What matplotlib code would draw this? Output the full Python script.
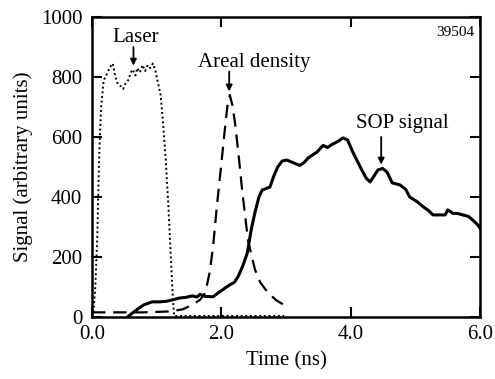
import matplotlib
matplotlib.use("Agg")
from matplotlib import pyplot as plt

plt.rcParams['font.family'] = ['Liberation Serif', 'DejaVu Serif']

# Laser pulse (dotted)
laser_t = [0.0, 0.02, 0.05, 0.08, 0.11, 0.14, 0.18, 0.22, 0.27, 0.32, 0.36, 0.40,
           0.44, 0.48, 0.52, 0.56, 0.60, 0.63, 0.67, 0.70, 0.74, 0.78, 0.82,
           0.86, 0.90, 0.94, 0.98, 1.02, 1.06, 1.10, 1.14, 1.18, 1.22, 1.25,
           1.27, 1.5, 2.0, 2.5, 2.97]
laser_y = [0, 13, 100, 260, 540, 700, 790, 805, 830, 845, 800, 775,
           770, 760, 780, 790, 815, 825, 805, 830, 815, 840, 820,
           840, 830, 845, 820, 780, 740, 640, 520, 370, 190, 60,
           3, 3, 3, 3, 3]

# Areal density (dashed)
areal_t = [0.0, 0.4, 0.8, 1.2, 1.4, 1.55, 1.67, 1.75, 1.82, 1.87, 1.93, 2.0,
           2.05, 2.09, 2.13, 2.17, 2.21, 2.27, 2.32, 2.37, 2.41, 2.47, 2.52,
           2.6, 2.72, 2.85, 2.98]
areal_y = [15, 15, 15, 18, 25, 40, 57, 80, 150, 233, 370, 513,
           620, 700, 740, 705, 647, 530, 423, 330, 257, 200, 157,
           115, 80, 55, 38]

# SOP signal (solid)
sop_t = [0.55, 0.62, 0.7, 0.8, 0.93, 1.05, 1.15, 1.25, 1.36, 1.45, 1.55, 1.62,
         1.67, 1.75, 1.87, 1.95, 2.05, 2.13, 2.2, 2.26, 2.33, 2.4, 2.46,
         2.52, 2.58, 2.63, 2.69, 2.75, 2.81, 2.87, 2.94, 3.01, 3.1, 3.21,
         3.28, 3.34, 3.41, 3.48, 3.57, 3.64, 3.71, 3.8, 3.88, 3.95, 4.03,
         4.1, 4.17, 4.24, 4.30, 4.36, 4.42, 4.49, 4.56, 4.64, 4.76, 4.85,
         4.91, 5.02, 5.12, 5.2, 5.27, 5.35, 5.46, 5.50, 5.58, 5.65, 5.73,
         5.82, 5.9, 5.97, 6.0]
sop_y = [0, 12, 25, 40, 50, 50, 52, 57, 63, 65, 70, 66,
         75, 68, 67, 80, 95, 107, 115, 135, 170, 213, 290,
         350, 400, 423, 428, 433, 470, 500, 520, 523, 515, 505,
         515, 530, 540, 550, 572, 565, 575, 585, 597, 590, 550,
         520, 490, 462, 450, 470, 490, 495, 483, 447, 440, 425,
         400, 385, 367, 355, 340, 340, 340, 357, 345, 345, 340,
         335, 320, 305, 295]

fig = plt.figure(figsize=(4.95, 3.79), dpi=100)
ax = fig.add_axes([0.186, 0.164, 0.784, 0.791])

ax.plot(laser_t, laser_y, color='black', linestyle=(0, (1, 1.4)), linewidth=1.4)
ax.plot(areal_t, areal_y, color='black', linestyle=(0, (6, 3.5)), linewidth=1.6)
ax.plot(sop_t, sop_y, color='black', linestyle='-', linewidth=2.2)

ax.set_xlim(0, 6)
ax.set_ylim(0, 1000)
ax.set_xticks([0, 2, 4, 6])
ax.set_xticklabels(['0.0', '2.0', '4.0', '6.0'])
ax.set_yticks([0, 200, 400, 600, 800, 1000])
ax.tick_params(direction='in', length=7, width=1.5, labelsize=15,
               top=True, right=True)
ax.tick_params(axis='x', pad=6)
ax.tick_params(axis='y', pad=7)
for s in ax.spines.values():
    s.set_linewidth(1.8)

ax.set_xlabel('Time (ns)', fontsize=15, labelpad=5)
ax.set_ylabel('Signal (arbitrary units)', fontsize=15, labelpad=6)

arrow = dict(arrowstyle='-|>', color='black', lw=1.3, mutation_scale=9,
             shrinkA=0, shrinkB=0)
ax.text(0.68, 932, 'Laser', fontsize=15, ha='center', va='center')
ax.annotate('', xy=(0.64, 838), xytext=(0.64, 900), arrowprops=arrow)
ax.text(2.51, 850, 'Areal density', fontsize=15, ha='center', va='center')
ax.annotate('', xy=(2.12, 752), xytext=(2.12, 818), arrowprops=arrow)
ax.text(4.79, 645, 'SOP signal', fontsize=15, ha='center', va='center')
ax.annotate('', xy=(4.47, 508), xytext=(4.47, 600), arrowprops=arrow)
ax.text(0.985, 0.97, '39504', transform=ax.transAxes, fontsize=11,
        ha='right', va='top')

fig.savefig('out.png', dpi=100)
